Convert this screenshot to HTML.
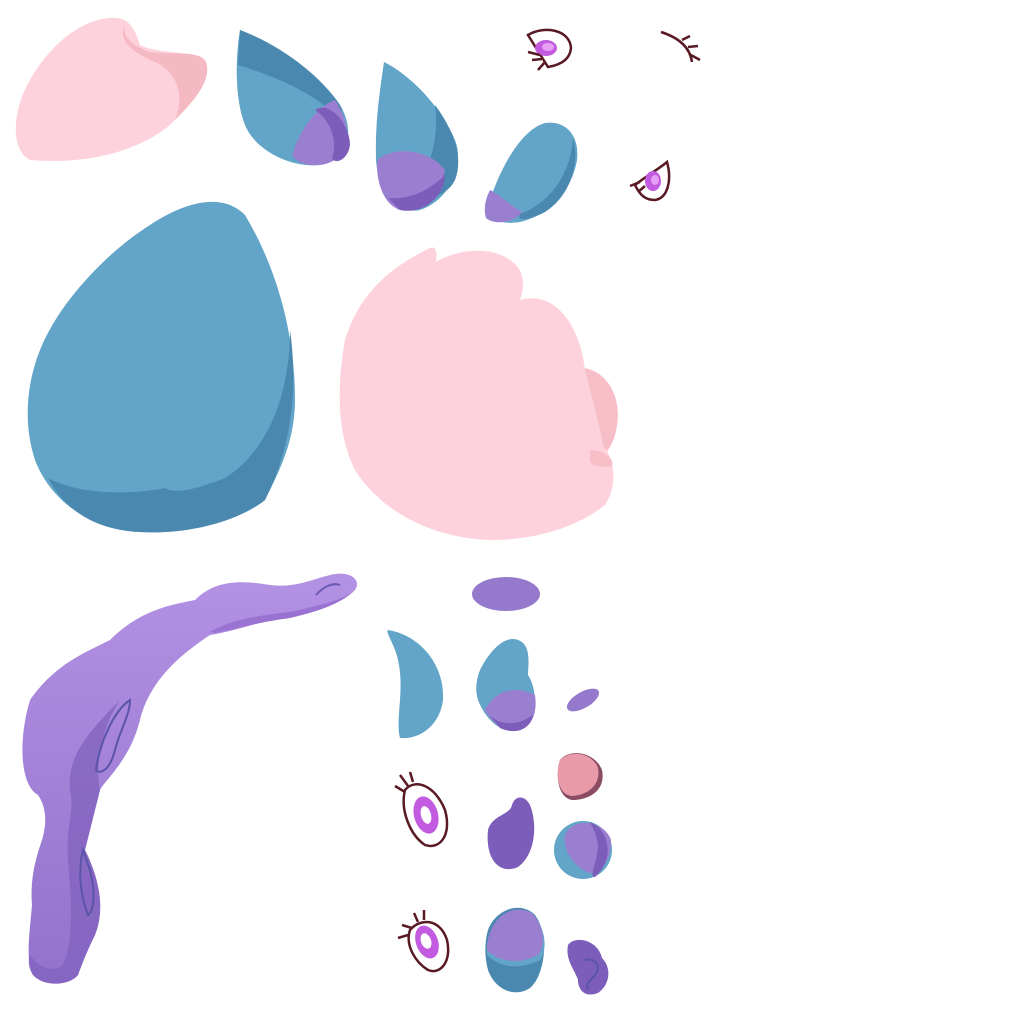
<!DOCTYPE html>
<html><head><meta charset="utf-8"><style>html,body{margin:0;padding:0;background:#fff;width:1024px;height:1024px;overflow:hidden}svg{display:block}</style></head>
<body>
<svg width="1024" height="1024" viewBox="0 0 1024 1024">
<defs>
<linearGradient id="tailg" x1="0" y1="0" x2="0" y2="1"><stop offset="0" stop-color="#b391e3"/><stop offset="1" stop-color="#9272cc"/></linearGradient>
</defs>
<!-- pink ear top-left -->
<g>
<path d="M30,160 C10,150 12,110 30,80 C50,45 80,20 110,18 C130,16 135,30 140,45 C160,55 200,50 206,62 C212,80 195,100 170,125 C140,150 90,165 30,160 Z" fill="#fed2dc"/>
<path d="M125,25 C122,35 130,45 150,52 C175,55 200,50 206,62 C212,80 195,100 175,120 C185,95 178,70 150,60 C130,50 118,40 125,25 Z" fill="#f5b9c3"/>
</g>
<!-- blue ear 1 -->
<g>
<path d="M240,30 C280,45 320,75 340,105 C355,130 350,160 320,165 C290,168 255,150 245,125 C235,100 235,60 240,30 Z" fill="#62a5c8"/>
<path d="M240,30 C280,45 320,75 340,105 C345,115 340,120 335,115 C310,90 270,75 238,65 Z" fill="#4b88b0"/>
<path d="M292,155 C300,130 315,108 335,100 C352,125 355,160 320,165 C305,166 296,162 292,155 Z" fill="#9a7fd1"/>
<path d="M315,110 C330,100 350,125 350,145 C348,160 335,165 332,158 C338,140 330,120 315,110 Z" fill="#7c5dba"/>
</g>
<!-- blue ear 2 -->
<g>
<path d="M384,62 C410,75 440,105 455,140 C465,165 450,200 420,210 C395,215 378,190 376,160 C375,120 380,90 384,62 Z" fill="#62a5c8"/>
<path d="M435,105 C450,125 465,155 455,180 C445,200 420,200 410,195 C428,175 440,140 435,105 Z" fill="#4b88b0"/>
<path d="M377,160 C395,145 430,150 445,170 C440,195 420,212 400,210 C385,205 376,185 377,160 Z" fill="#9a7fd1"/>
<path d="M388,198 C410,200 430,190 445,175 C445,195 425,215 400,210 Z" fill="#7c5dba"/>
</g>
<!-- blue ear 3 -->
<g>
<path d="M490,200 C500,170 520,130 545,123 C565,120 580,135 577,160 C572,190 550,215 520,222 C495,226 483,215 490,200 Z" fill="#62a5c8"/>
<path d="M573,138 C580,160 572,195 545,212 C530,220 515,222 520,214 C545,205 570,180 573,138 Z" fill="#4b88b0"/>
<path d="M490,190 C500,195 510,205 522,212 C515,222 495,226 486,218 C483,208 486,198 490,190 Z" fill="#9a7fd1"/>
</g>
<!-- eyes top -->
<g stroke="#5a1a24" stroke-width="2.5" fill="none">
<path d="M528,35 C545,25 570,30 571,48 C570,60 560,65 548,67 Z" fill="#fff"/>
<ellipse cx="546" cy="48" rx="11" ry="8" fill="#c35be0" stroke="none"/>
<ellipse cx="548" cy="47" rx="6" ry="4" fill="#e7a0f5" stroke="none"/>
<path d="M540,55 L528,52 M542,59 L532,60 M545,62 L538,70"/>
</g>
<g stroke="#5a1a24" stroke-width="2.5" fill="none">
<path d="M661,32 C680,38 690,48 692,62 M682,40 L690,36 M688,47 L698,46 M691,55 L700,60"/>
</g>
<g stroke="#5a1a24" stroke-width="2.5" fill="none">
<path d="M635,185 C648,175 660,168 667,162 C672,180 668,198 655,200 C645,200 640,195 635,185 Z" fill="#fff"/>
<ellipse cx="653" cy="181" rx="8" ry="10" fill="#c35be0" stroke="none"/>
<ellipse cx="655" cy="180" rx="4" ry="5" fill="#e7a0f5" stroke="none"/>
<path d="M640,182 L630,186 M645,186 L638,192"/>
</g>
<!-- big blue head -->
<g>
<path d="M40,350 C60,300 110,250 150,225 C180,205 220,190 245,215 C275,265 295,330 295,400 C295,440 280,470 265,500 C240,520 190,535 140,532 C90,530 50,500 35,460 C22,420 28,380 40,350 Z" fill="#62a5c8"/>
<path d="M290,330 C297,380 295,440 265,500 C240,520 190,535 140,532 C95,530 65,510 48,478 C80,495 130,495 165,488 C175,495 200,488 225,478 C270,450 290,390 290,330 Z" fill="#4b88b0"/>
</g>
<!-- big pink head -->
<g>
<path d="M583,368 C605,370 622,395 617,425 C614,450 600,460 590,465 C600,440 595,400 583,368 Z" fill="#f8bec8"/>
<path d="M345,340 C360,290 395,265 430,248 C437,245 437,255 436,262 C455,250 490,245 510,260 C525,270 525,285 520,300 C555,290 580,325 585,370 C592,400 600,425 603,445 C615,460 618,485 605,505 C580,525 540,540 490,540 C430,538 380,510 355,470 C335,430 338,380 345,340 Z" fill="#fed2dc"/>
<path d="M590,450 C605,450 615,460 612,466 C600,468 590,466 590,460 Z" fill="#f8bec8"/>
</g>
<!-- purple tail -->
<g>
<path d="M30,700 C55,665 80,655 110,640 C140,610 170,605 195,600 C215,580 240,580 270,585 C295,588 310,580 330,575 C350,570 362,580 355,590 C340,605 315,610 290,615 C265,620 240,630 210,635 C180,655 150,680 140,720 C130,760 105,780 100,790 C95,810 90,830 85,850 C100,880 105,910 95,935 C85,955 80,970 78,975 C70,985 45,988 33,975 C25,960 30,930 32,905 C30,880 35,860 42,840 C48,820 45,805 38,795 C20,785 18,740 30,700 Z" fill="url(#tailg)"/>
<path d="M120,700 C100,730 95,770 100,790 C95,810 90,830 85,850 C100,880 105,910 95,935 C85,955 80,970 78,975 C70,985 45,988 33,975 C28,968 28,960 30,955 C40,970 60,975 65,960 C75,930 70,890 68,860 C65,830 75,810 70,790 C68,760 80,740 120,700 Z" fill="#8061bd" opacity="0.75"/>
<path d="M210,632 C230,620 260,615 290,612 C320,605 345,600 355,590 C340,605 315,612 290,618 C260,622 240,628 215,633 Z" fill="#9a72d1"/>
<path d="M130,700 C115,710 100,740 96,770 C100,775 110,770 115,750 C120,730 130,715 130,700 Z" fill="none" stroke="#5a55a8" stroke-width="2"/>
<path d="M83,850 C78,870 80,895 88,915 C95,910 95,890 90,870 Z" fill="none" stroke="#5a55a8" stroke-width="2"/>
<path d="M316,595 C322,588 332,582 340,585" fill="none" stroke="#6a5bb4" stroke-width="2"/>
</g>
<!-- small pieces -->
<ellipse cx="506" cy="594" rx="34" ry="17" fill="#9579cd"/>
<path d="M388,630 C420,635 445,665 443,700 C440,725 420,740 400,738 C395,720 405,690 398,660 C395,645 385,632 388,630 Z" fill="#62a5c8"/>
<g>
<path d="M480,670 C490,650 505,635 518,640 C532,645 528,665 528,675 C538,690 538,720 520,730 C500,735 485,718 478,700 C475,690 476,680 480,670 Z" fill="#62a5c8"/>
<path d="M485,710 C495,690 515,685 535,695 C538,715 530,730 515,731 C500,730 490,720 485,710 Z" fill="#9a7fd1"/>
<path d="M485,710 C495,725 515,728 533,715 C530,730 515,735 500,728 Z" fill="#7c5dba"/>
</g>
<ellipse cx="583" cy="700" rx="18" ry="8" transform="rotate(-30 583 700)" fill="#9579cd"/>
<g>
<path d="M560,760 C570,748 595,752 602,770 C606,790 590,800 572,800 C558,798 555,775 560,760 Z" fill="#8b4b62"/>
<path d="M560,760 C570,750 592,752 598,768 C601,785 588,795 572,796 C558,795 555,775 560,760 Z" fill="#e89aa9"/>
</g>
<g stroke="#5a1a24" stroke-width="2.5" fill="none">
<path d="M405,790 C415,778 435,785 445,810 C452,835 440,850 425,845 C410,835 400,810 405,790 Z" fill="#fff"/>
<ellipse cx="426" cy="815" rx="12" ry="19" transform="rotate(-15 426 815)" fill="#c35be0" stroke="none"/>
<ellipse cx="426" cy="815" rx="5" ry="9" transform="rotate(-15 426 815)" fill="#fff" stroke="none"/>
<path d="M405,792 L395,786 M408,786 L400,775 M413,782 L410,772"/>
</g>
<path d="M488,830 C492,815 510,815 512,805 C515,795 525,795 530,805 C538,825 535,855 518,867 C500,875 485,860 488,830 Z" fill="#7c5dba"/>
<g>
<circle cx="583" cy="850" r="29" fill="#62a5c8"/>
<path d="M565,835 C575,815 605,822 611,840 C612,860 600,875 590,873 C575,868 562,850 565,835 Z" fill="#9a7fd1"/>
<path d="M590,822 C610,830 615,860 595,877 C588,878 598,860 598,845 C597,835 592,826 590,822 Z" fill="#7c5dba"/>
</g>
<g stroke="#5a1a24" stroke-width="2.5" fill="none">
<path d="M410,930 C420,918 440,918 447,940 C452,962 440,975 428,970 C415,962 405,945 410,930 Z" fill="#fff"/>
<ellipse cx="427" cy="942" rx="11" ry="17" transform="rotate(-20 427 942)" fill="#c35be0" stroke="none"/>
<ellipse cx="426" cy="941" rx="5" ry="8" transform="rotate(-20 426 941)" fill="#fff" stroke="none"/>
<path d="M408,935 L398,938 M412,928 L402,925 M418,922 L414,913 M424,920 L424,910"/>
</g>
<g>
<path d="M488,930 C495,910 520,900 535,915 C550,935 545,975 530,988 C515,998 495,990 488,970 C484,955 485,940 488,930 Z" fill="#4b88b0"/>
<path d="M487,950 C490,925 510,905 530,912 C546,925 548,950 540,960 C520,970 500,968 487,955 Z" fill="#62a5c8"/>
<path d="M487,945 C490,918 512,902 532,913 C546,928 545,948 538,955 C520,965 498,962 487,950 Z" fill="#9a7fd1"/>
</g>
<g>
<path d="M568,945 C575,935 598,940 602,958 C612,968 610,985 598,993 C585,998 578,990 578,980 C575,970 565,960 568,945 Z" fill="#7c5dba"/>
<path d="M585,960 C595,958 602,965 595,975 C590,980 585,985 588,990" fill="none" stroke="#5a55a8" stroke-width="2"/>
</g>
</svg>
</body></html>
